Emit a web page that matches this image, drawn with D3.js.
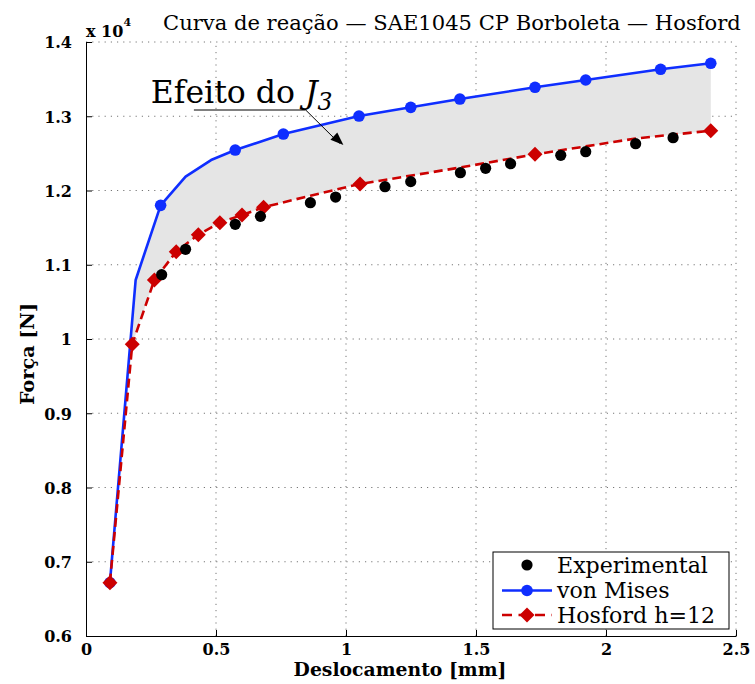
<!DOCTYPE html>
<html><head><meta charset="utf-8">
<script src="https://cdn.jsdelivr.net/npm/d3@7"></script>
<style>body{margin:0;background:#fff}svg{display:block}</style>
</head><body>
<svg id="c" width="755" height="684"></svg>
<script>
// ---- data (force in units of 10^4 N) ----
const xTicks = [0, 0.5, 1, 1.5, 2, 2.5];
const yTicks = [0.6, 0.7, 0.8, 0.9, 1.0, 1.1, 1.2, 1.3, 1.4];

const expX = [0.291, 0.383, 0.574, 0.671, 0.863, 0.960, 1.150, 1.249, 1.440, 1.537, 1.633, 1.826, 1.922, 2.114, 2.258];
const expY = [1.0866, 1.1208, 1.1545, 1.1652, 1.1836, 1.1912, 1.2051, 1.2119, 1.2240, 1.2299, 1.2361, 1.2474, 1.2523, 1.2630, 1.2711];

const vmX = [0.092, 0.191, 0.287, 0.383, 0.481, 0.574, 0.759, 1.050, 1.249, 1.438, 1.727, 1.922, 2.210, 2.403];
const vmY = [0.6718, 1.0795, 1.1800, 1.2186, 1.2410, 1.2545, 1.2760, 1.3003, 1.3120, 1.3232, 1.3390, 1.3488, 1.3632, 1.3713];
const vmMarked = [0, 2, 5, 6, 7, 8, 9, 10, 11, 12, 13];

const hfX = [0.092, 0.178, 0.263, 0.347, 0.432, 0.515, 0.600, 0.683, 0.863, 1.054, 1.440, 1.727, 2.114, 2.403];
const hfY = [0.6718, 0.9930, 1.0795, 1.1176, 1.1405, 1.1566, 1.1670, 1.1774, 1.1930, 1.2088, 1.2310, 1.2487, 1.2700, 1.2806];
const hfMarked = [0, 1, 2, 3, 4, 5, 6, 7, 9, 11, 13];

const seriesNames = ["Experimental", "von Mises", "Hosford h=12"];
const titleText = "Curva de reação —  SAE1045 CP Borboleta — Hosford";
const xLabel = "Deslocamento [mm]";
const yLabel = "Força [N]";

// ---- drawing ----
const FONT = "'DejaVu Serif', 'Liberation Serif', serif";
const BLUE = "#0f2eff", RED = "#cc0000", FILL = "#e5e5e5";
const svg = d3.select("#c");
const x = d3.scaleLinear().domain([0, 2.5]).range([86, 736]);
const y = d3.scaleLinear().domain([0.6, 1.4]).range([636, 42]);

function fit(sel, target, s0) {
  sel.attr("font-size", s0);
  const L = sel.node().getComputedTextLength();
  sel.attr("font-size", s0 * target / L);
  return sel;
}

// grid
const g = svg.append("g");
g.selectAll(".gx").data(xTicks.slice(1)).join("line")
  .attr("x1", d => x(d)).attr("x2", d => x(d)).attr("y1", y(0.6)).attr("y2", y(1.4))
  .attr("stroke", "#777").attr("stroke-width", 1).attr("stroke-dasharray", "1.2,5");
g.selectAll(".gy").data(yTicks.slice(1)).join("line")
  .attr("y1", d => y(d)).attr("y2", d => y(d)).attr("x1", x(0)).attr("x2", x(2.5))
  .attr("stroke", "#777").attr("stroke-width", 1).attr("stroke-dasharray", "1.2,5");

// shaded region between curves
const vmPts = vmX.map((d, i) => [x(d), y(vmY[i])]);
const hfPts = hfX.map((d, i) => [x(d), y(hfY[i])]);
svg.append("path")
  .attr("d", d3.line()(vmPts.concat(hfPts.slice().reverse())) + "Z")
  .attr("fill", FILL).attr("stroke", "none");

// axes
const ax = svg.append("g").attr("transform", `translate(0,${y(0.6)})`)
  .call(d3.axisBottom(x).tickValues(xTicks).tickFormat(d3.format("~g")).tickSize(-6).tickSizeOuter(0));
const ay = svg.append("g").attr("transform", `translate(${x(0)},0)`)
  .call(d3.axisLeft(y).tickValues(yTicks).tickFormat(d3.format("~g")).tickSize(-6).tickSizeOuter(0).tickPadding(14));
[ax, ay].forEach(a => {
  a.select(".domain").attr("stroke", "#000").attr("stroke-width", 1);
  a.selectAll(".tick line").attr("stroke", "#000");
  a.selectAll("text").attr("font-family", FONT).attr("font-weight", "bold").attr("font-size", 16).attr("fill", "#000");
});
ax.selectAll("text").attr("y", 19).attr("dy", null);
ay.selectAll("text").attr("dy", "0.36em");

// von Mises line + markers
svg.append("path").attr("d", d3.line()(vmPts)).attr("fill", "none")
  .attr("stroke", BLUE).attr("stroke-width", 2.6).attr("stroke-linejoin", "round");
svg.selectAll(".vm").data(vmMarked).join("circle")
  .attr("cx", i => x(vmX[i])).attr("cy", i => y(vmY[i])).attr("r", 5.8).attr("fill", BLUE);

// Hosford line + markers
svg.append("path").attr("d", d3.line()(hfPts)).attr("fill", "none")
  .attr("stroke", RED).attr("stroke-width", 2.6).attr("stroke-dasharray", "9,5");
const diamond = (cx, cy, r) => `M${cx},${cy - r}L${cx + r},${cy}L${cx},${cy + r}L${cx - r},${cy}Z`;
svg.selectAll(".hf").data(hfMarked).join("path")
  .attr("d", i => diamond(x(hfX[i]), y(hfY[i]), 7.5)).attr("fill", RED);

// experimental
svg.selectAll(".ex").data(expX).join("circle")
  .attr("cx", d => x(d)).attr("cy", (d, i) => y(expY[i])).attr("r", 5.6).attr("fill", "#000");

// annotation "Efeito do J3"
const ann = svg.append("text").attr("x", x(0.249)).attr("y", y(1.3183))
  .attr("font-family", FONT).attr("fill", "#000");
ann.append("tspan").text("Efeito do ");
ann.append("tspan").attr("font-style", "italic").text("J");
ann.append("tspan").attr("font-style", "italic").attr("font-size", "0.75em").attr("dy", "0.3em").text("3");
fit(ann, 182, 30);
svg.append("path")
  .attr("d", d3.line()([[x(0.415), y(1.3084)], [x(0.845), y(1.3084)], [x(0.975), y(1.2633)]]))
  .attr("fill", "none").attr("stroke", "#000").attr("stroke-width", 1);
{
  const tx = x(0.99), ty = y(1.2614);
  const bx = x(0.845), by = y(1.3084);
  const ang = Math.atan2(ty - by, tx - bx);
  const L = 13, Wd = 5;
  const p = [[tx, ty],
    [tx - L * Math.cos(ang) + Wd * Math.sin(ang), ty - L * Math.sin(ang) - Wd * Math.cos(ang)],
    [tx - L * Math.cos(ang) - Wd * Math.sin(ang), ty - L * Math.sin(ang) + Wd * Math.cos(ang)]];
  svg.append("path").attr("d", d3.line()(p) + "Z").attr("fill", "#000");
}

// title and exponent
const t = svg.append("text").attr("x", 163).attr("y", 30).attr("font-family", FONT).attr("fill", "#000").text(titleText);
fit(t, 578, 20);
const ex = svg.append("text").attr("x", 86).attr("y", 37).attr("font-family", FONT).attr("font-weight", "bold")
  .attr("font-size", 16).attr("fill", "#000");
ex.append("tspan").text("x 10");
ex.append("tspan").attr("font-size", 11).attr("dy", -11).text("4");

// axis labels
fit(svg.append("text").attr("x", 400).attr("y", 676).attr("text-anchor", "middle")
  .attr("font-family", FONT).attr("font-weight", "bold").attr("fill", "#000").text(xLabel), 213, 18);
fit(svg.append("text").attr("transform", "translate(34,354) rotate(-90)").attr("text-anchor", "middle")
  .attr("font-family", FONT).attr("font-weight", "bold").attr("fill", "#000").text(yLabel), 102, 18);

// legend
const lg = svg.append("g");
lg.append("rect").attr("x", 493).attr("y", 552).attr("width", 236).attr("height", 77)
  .attr("fill", "#fff").attr("stroke", "#000").attr("stroke-width", 1);
const rows = [565, 590.5, 615];
lg.append("circle").attr("cx", 527).attr("cy", rows[0]).attr("r", 5.6).attr("fill", "#000");
lg.append("line").attr("x1", 502).attr("x2", 552).attr("y1", rows[1]).attr("y2", rows[1])
  .attr("stroke", BLUE).attr("stroke-width", 2.6);
lg.append("circle").attr("cx", 527).attr("cy", rows[1]).attr("r", 5.8).attr("fill", BLUE);
lg.append("line").attr("x1", 502).attr("x2", 552).attr("y1", rows[2]).attr("y2", rows[2])
  .attr("stroke", RED).attr("stroke-width", 2.6).attr("stroke-dasharray", "10,6.5").attr("stroke-dashoffset", 0);
lg.append("path").attr("d", diamond(527, rows[2], 7.5)).attr("fill", RED);
const lt = lg.selectAll(".lt").data(seriesNames).join("text")
  .attr("x", 557).attr("y", (d, i) => rows[i]).attr("dy", "0.36em")
  .attr("font-family", FONT).attr("fill", "#000").text(d => d);
fit(d3.select(lt.nodes()[0]), 151, 20);
lt.attr("font-size", d3.select(lt.nodes()[0]).attr("font-size"));
</script>
</body></html>
